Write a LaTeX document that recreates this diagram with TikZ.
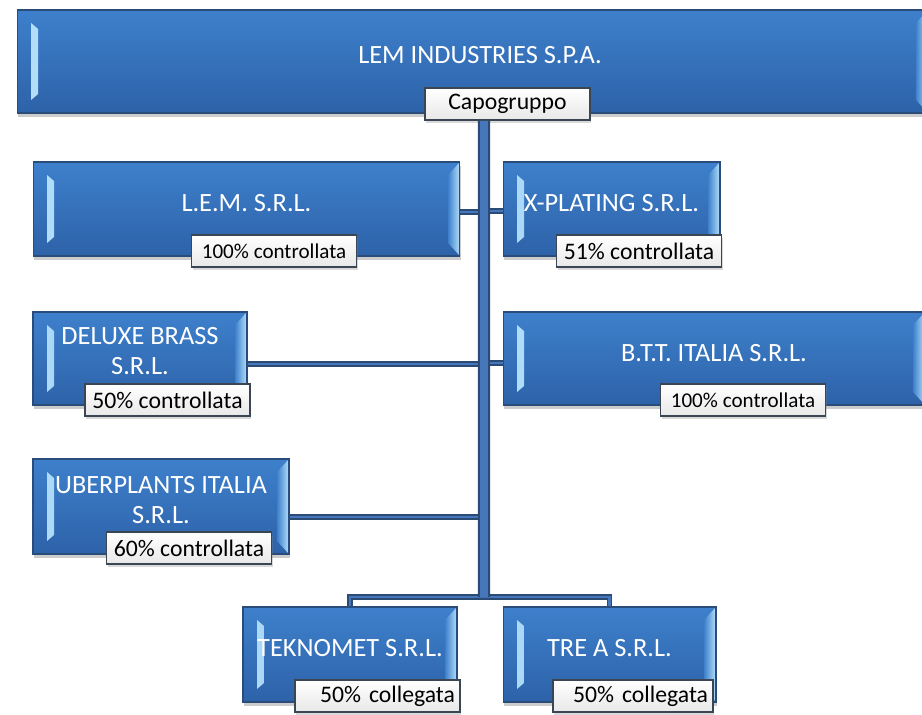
\documentclass[tikz,border=0pt]{standalone}
\usepackage{fontspec}
\setmainfont{Carlito}
\usetikzlibrary{shadows}
\definecolor{boxblue}{HTML}{3E80CC}
\definecolor{boxdark}{HTML}{2D62A8}
\definecolor{boxedge}{HTML}{2A4C7A}
\definecolor{bevelhi}{HTML}{B4E0FA}
\definecolor{linkblue}{HTML}{4677BA}
\definecolor{linkedge}{HTML}{2B4A74}
\definecolor{tagedge}{HTML}{3A4654}

\tikzset{
  orgbox/.style={rectangle, draw=boxedge, line width=0.6pt,
    top color=boxblue, bottom color=boxdark,
    drop shadow={shadow xshift=0.6pt, shadow yshift=-2.2pt, opacity=0.4},
    path picture={
      % left strip
      \shade[left color=bevelhi, right color=boxblue]
        ([shift={(0.28cm,-0.26cm)}]path picture bounding box.north west)
        -- ([shift={(0.42cm,-0.38cm)}]path picture bounding box.north west)
        -- ([shift={(0.42cm,0.38cm)}]path picture bounding box.south west)
        -- ([shift={(0.28cm,0.26cm)}]path picture bounding box.south west) -- cycle;
      % right face
      \shade[left color=boxblue, right color=bevelhi]
        (path picture bounding box.north east)
        -- ([shift={(-0.24cm,-0.26cm)}]path picture bounding box.north east)
        -- ([shift={(-0.24cm,0.26cm)}]path picture bounding box.south east)
        -- (path picture bounding box.south east) -- cycle;
    }},
  boxtitle/.style={text=white, font=\fontsize{15}{17}\selectfont, align=center, inner sep=0pt},
  tagbox/.style={rectangle, draw=tagedge, line width=0.9pt,
    top color=white, bottom color=gray!18,
    minimum width=3.3cm, minimum height=0.64cm, inner sep=1pt,
    font=\fontsize{13.5}{15}\selectfont,
    drop shadow={shadow xshift=0.8pt, shadow yshift=-1.6pt, opacity=0.3}},
  smalltag/.style={font=\fontsize{12}{14}\selectfont},
  righttag/.style={text width=3.1cm, align=right, inner xsep=0.1cm},
  link/.style={draw=linkedge, line width=0.8pt, double=linkblue, double distance=1.6pt},
  trunk/.style={draw=linkedge, line width=1.3pt, double=linkblue, double distance=4.4pt}
}

\begin{document}
\begin{tikzpicture}[x=0.02cm, y=-0.02cm]
  \useasboundingbox (0,0) rectangle (922,714);

  % parent
  \node[orgbox, minimum width=18.22cm, minimum height=2.06cm] (lem) at (472.5,61.5) {};
  \node[boxtitle] (lemtxt) at (480,55) {LEM INDUSTRIES S.P.A.};
  \node[tagbox] (cap) at (507.5,104) {Capogruppo};

  % controlled companies
  \node[orgbox, minimum width=8.54cm, minimum height=1.88cm] (lemsrl) at (246.5,209) {};
  \node[boxtitle] (lemsrltxt) at ([yshift=0.12cm]lemsrl.center) {L.E.M. S.R.L.};
  \node[tagbox, smalltag] (lemsrltag) at (274,251) {100\% controllata};

  \node[orgbox, minimum width=4.34cm, minimum height=1.88cm] (xplat) at (611.5,209) {};
  \node[boxtitle] (xplattxt) at ([yshift=0.12cm]xplat.center) {X-PLATING S.R.L.};
  \node[tagbox] (xplattag) at (639,251) {51\% controllata};

  \node[orgbox, minimum width=4.28cm, minimum height=1.86cm] (deluxe) at (140,358.5) {};
  \node[boxtitle] (deluxetxt) at ([yshift=0.15cm]deluxe.center) {DELUXE BRASS\\S.R.L.};
  \node[tagbox] (deluxetag) at (167.5,400) {50\% controllata};

  \node[orgbox, minimum width=8.44cm, minimum height=1.86cm] (btt) at (714,358.5) {};
  \node[boxtitle] (btttxt) at ([yshift=0.11cm]btt.center) {B.T.T. ITALIA S.R.L.};
  \node[tagbox, smalltag] (btttag) at (743,400) {100\% controllata};

  \node[orgbox, minimum width=5.12cm, minimum height=1.9cm] (uber) at (161,506.5) {};
  \node[boxtitle] (ubertxt) at ([yshift=0.13cm]uber.center) {UBERPLANTS ITALIA\\S.R.L.};
  \node[tagbox] (ubertag) at (189,548) {60\% controllata};

  % associated companies
  \node[orgbox, minimum width=4.28cm, minimum height=1.9cm] (tek) at (350,654.5) {};
  \node[boxtitle] (tektxt) at ([yshift=0.13cm]tek.center) {TEKNOMET S.R.L.};
  \node[tagbox, righttag] (tektag) at (377.5,696) {50\% collegata};

  \node[orgbox, minimum width=4.26cm, minimum height=1.9cm] (trea) at (609.5,654.5) {};
  \node[boxtitle] (treatxt) at ([yshift=0.13cm]trea.center) {TRE A S.R.L.};
  \node[tagbox, righttag, minimum width=3.2cm, text width=3.0cm] (treatag) at (633,696) {50\% collegata};

  % connectors (branches first, trunk on top)
  \coordinate (trunktop) at ([xshift=-0.47cm]cap.south);
  \coordinate (split) at (484,597);
  \draw[link] ([yshift=-0.06cm]lemsrl.east) -- ([yshift=-0.06cm]lemsrl.east -| trunktop);
  \draw[link] ([yshift=-0.04cm]xplat.west) -- ([yshift=-0.04cm]xplat.west -| trunktop);
  \draw[link] ([yshift=-0.11cm]deluxe.east) -- ([yshift=-0.11cm]deluxe.east -| trunktop);
  \draw[link] ([yshift=-0.09cm]btt.west) -- ([yshift=-0.09cm]btt.west -| trunktop);
  \draw[link] ([yshift=-0.21cm]uber.east) -- ([yshift=-0.21cm]uber.east -| trunktop);
  \draw[link] (tek.north) |- (split) -| (trea.north);
  \draw[trunk] (trunktop) -- (split);
\end{tikzpicture}
\end{document}
